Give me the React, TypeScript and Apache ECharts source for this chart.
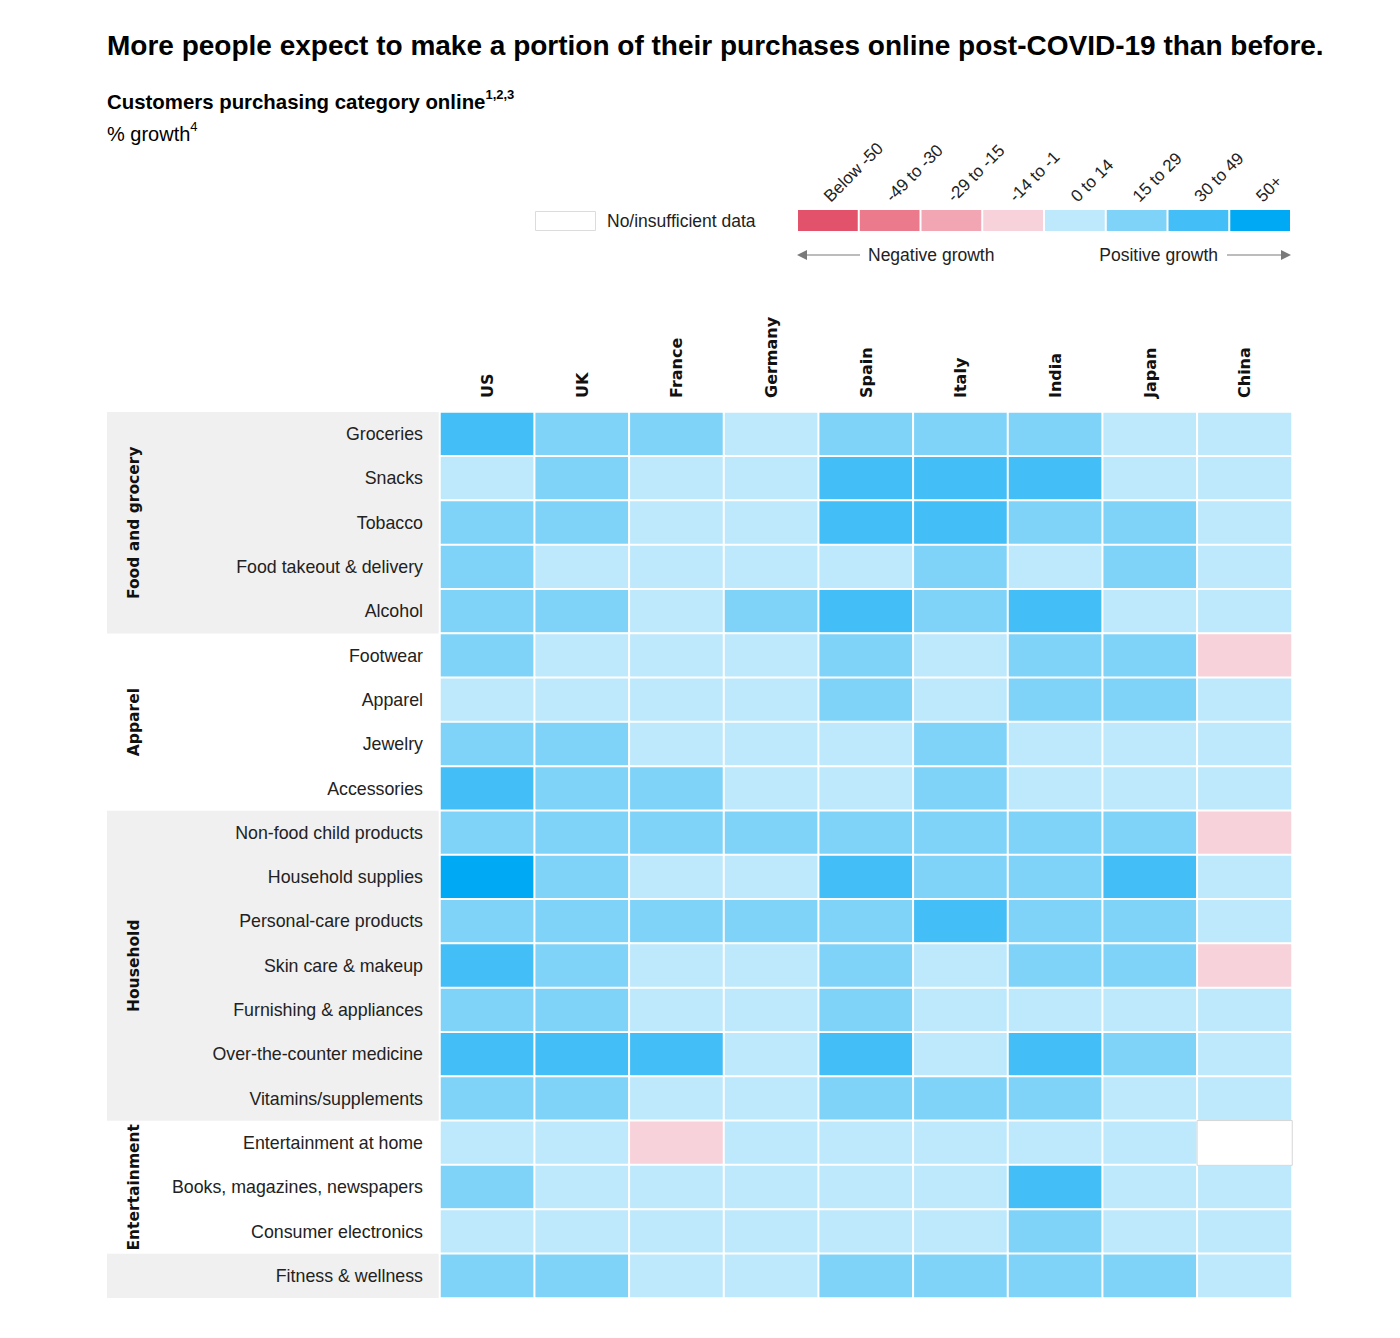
import React, { useEffect, useRef } from "react";
import * as echarts from "echarts";

const countries = ["US", "UK", "France", "Germany", "Spain", "Italy", "India", "Japan", "China"];

const items = [
  "Groceries",
  "Snacks",
  "Tobacco",
  "Food takeout & delivery",
  "Alcohol",
  "Footwear",
  "Apparel",
  "Jewelry",
  "Accessories",
  "Non-food child products",
  "Household supplies",
  "Personal-care products",
  "Skin care & makeup",
  "Furnishing & appliances",
  "Over-the-counter medicine",
  "Vitamins/supplements",
  "Entertainment at home",
  "Books, magazines, newspapers",
  "Consumer electronics",
  "Fitness & wellness",
];

// bucket index per cell (0 = "Below -50" ... 7 = "50+"), null = no/insufficient data
const buckets = ["Below -50", "-49 to -30", "-29 to -15", "-14 to -1", "0 to 14", "15 to 29", "30 to 49", "50+"];
const bucketColors = ["#e3526b", "#ea7a8c", "#f2a6b3", "#f8d2da", "#bee8fb", "#80d3f8", "#43bef6", "#00a9f3"];

const values: (number | null)[][] = [
  [6, 5, 5, 4, 5, 5, 5, 4, 4],
  [4, 5, 4, 4, 6, 6, 6, 4, 4],
  [5, 5, 4, 4, 6, 6, 5, 5, 4],
  [5, 4, 4, 4, 4, 5, 4, 5, 4],
  [5, 5, 4, 5, 6, 5, 6, 4, 4],
  [5, 4, 4, 4, 5, 4, 5, 5, 3],
  [4, 4, 4, 4, 5, 4, 5, 5, 4],
  [5, 5, 4, 4, 4, 5, 4, 4, 4],
  [6, 5, 5, 4, 4, 5, 4, 4, 4],
  [5, 5, 5, 5, 5, 5, 5, 5, 3],
  [7, 5, 4, 4, 6, 5, 5, 6, 4],
  [5, 5, 5, 5, 5, 6, 5, 5, 4],
  [6, 5, 4, 4, 5, 4, 5, 5, 3],
  [5, 5, 4, 4, 5, 4, 4, 4, 4],
  [6, 6, 6, 4, 6, 4, 6, 5, 4],
  [5, 5, 4, 4, 5, 5, 5, 4, 4],
  [4, 4, 3, 4, 4, 4, 4, 4, null],
  [5, 4, 4, 4, 4, 4, 6, 4, 4],
  [4, 4, 4, 4, 4, 4, 5, 4, 4],
  [5, 5, 4, 4, 5, 5, 5, 5, 4],
];

const groupNames = ["Food and grocery", "Apparel", "Household", "Entertainment", ""];
const groupStart = [0, 5, 9, 16, 19];
const groupEnd = [4, 8, 15, 18, 19];
const groupShaded = [true, false, true, false, true];

const BODY = "'Liberation Sans', Arial, Helvetica, sans-serif";
const WIDE = "'DejaVu Sans', Verdana, sans-serif";

export default function App() {
  const ref = useRef<HTMLDivElement>(null);

  useEffect(() => {
    if (!ref.current) return;
    const chart = echarts.init(ref.current, null, { renderer: "svg" });

    const cellData: number[][] = [];
    const nullData: number[][] = [];
    values.forEach((row, y) =>
      row.forEach((v, x) => {
        if (v === null) nullData.push([x, y, -1]);
        else cellData.push([x, y, v]);
      })
    );

    chart.setOption({
      animation: false,
      grid: { left: 440, right: 108, top: 412, bottom: 40, containLabel: false },
      xAxis: {
        type: "category",
        data: countries,
        position: "top",
        axisLine: { show: false },
        axisTick: { show: false },
        splitLine: { show: false },
        axisLabel: {
          rotate: -90,
          margin: 14,
          fontFamily: WIDE,
          fontWeight: "bold",
          fontSize: 16,
          color: "#111",
        },
      },
      yAxis: {
        type: "category",
        data: items,
        inverse: true,
        axisLine: { show: false },
        axisTick: { show: false },
        splitLine: { show: false },
        axisLabel: {
          margin: 17,
          fontFamily: BODY,
          fontSize: 17.8,
          color: "#222",
        },
      },
      visualMap: [
        {
          type: "piecewise",
          show: false,
          dimension: 2,
          seriesIndex: 0,
          pieces: buckets.map((b, i) => ({ value: i, color: bucketColors[i], label: b })),
        },
        {
          type: "piecewise",
          show: false,
          dimension: 2,
          seriesIndex: 1,
          pieces: [{ value: -1, color: "#ffffff", label: "No/insufficient data" }],
        },
      ],
      series: [
        {
          type: "heatmap",
          data: cellData,
          itemStyle: { borderColor: "#ffffff", borderWidth: 2 },
          emphasis: { disabled: true },
        },
        {
          type: "heatmap",
          data: nullData,
          itemStyle: { borderColor: "#d6d6d6", borderWidth: 1 },
          emphasis: { disabled: true },
        },
      ],
    });

    const p0 = chart.convertToPixel({ xAxisIndex: 0, yAxisIndex: 0 }, [0, 0]) as number[];
    const p1 = chart.convertToPixel({ xAxisIndex: 0, yAxisIndex: 0 }, [1, 1]) as number[];
    const cellW = p1[0] - p0[0];
    const cellH = p1[1] - p0[1];
    const gridLeft = p0[0] - cellW / 2;
    const rowTop = (i: number) => p0[1] - cellH / 2 + i * cellH;

    const elements: any[] = [];

    // group bands
    groupNames.forEach((g, i) => {
      const top = rowTop(groupStart[i]);
      const bottom = rowTop(groupEnd[i] + 1);
      if (groupShaded[i]) {
        elements.push({
          type: "rect",
          z: -10,
          shape: { x: 107, y: top, width: gridLeft - 107, height: bottom - top },
          style: { fill: "#f0f0f0" },
          silent: true,
        });
      }
      if (g) {
        elements.push({
          type: "text",
          x: 134,
          y: (top + bottom) / 2,
          rotation: Math.PI / 2,
          style: {
            text: g,
            font: `bold 15.5px ${WIDE}`,
            fill: "#111",
            textAlign: "center",
            textVerticalAlign: "middle",
          },
        });
      }
    });

    // title & subtitle
    elements.push({
      type: "text",
      x: 107,
      y: 45,
      style: {
        text: "More people expect to make a portion of their purchases online post-COVID-19 than before.",
        font: `bold 28px ${BODY}`,
        fill: "#000",
        textVerticalAlign: "middle",
      },
    });
    elements.push({
      type: "text",
      x: 107,
      y: 88,
      style: {
        text: "{a|Customers purchasing category online}{s|1,2,3}",
        fill: "#000",
        rich: {
          a: { font: `bold 20.4px ${BODY}`, fill: "#000", lineHeight: 24, verticalAlign: "bottom" },
          s: { font: `bold 13px ${BODY}`, fill: "#000", lineHeight: 24, verticalAlign: "top" },
        },
      },
    });
    elements.push({
      type: "text",
      x: 107,
      y: 120,
      style: {
        text: "{a|% growth}{s|4}",
        fill: "#000",
        rich: {
          a: { font: `20px ${BODY}`, fill: "#000", lineHeight: 24, verticalAlign: "bottom" },
          s: { font: `13px ${BODY}`, fill: "#000", lineHeight: 24, verticalAlign: "top" },
        },
      },
    });

    // legend: no data
    elements.push({
      type: "rect",
      shape: { x: 535.5, y: 211.5, width: 60, height: 19 },
      style: { fill: "#fff", stroke: "#dcdcdc", lineWidth: 1 },
    });
    elements.push({
      type: "text",
      x: 607,
      y: 221,
      style: {
        text: "No/insufficient data",
        font: `17.5px ${BODY}`,
        fill: "#222",
        textVerticalAlign: "middle",
      },
    });

    // legend: color scale
    const lx0 = 797;
    const lx1 = 1291;
    const lw = (lx1 - lx0) / buckets.length;
    buckets.forEach((b, i) => {
      const x = lx0 + i * lw;
      elements.push({
        type: "rect",
        shape: { x: x + 1, y: 210, width: lw - 2, height: 21 },
        style: { fill: bucketColors[i] },
      });
      elements.push({
        type: "text",
        x: x + lw / 2 + 5,
        y: 205,
        rotation: Math.PI / 4,
        style: {
          text: b,
          font: `17px ${BODY}`,
          fill: "#222",
          textAlign: "left",
          textVerticalAlign: "bottom",
        },
      });
    });

    // arrows
    const arrowColor = "#7a7a7a";
    elements.push({
      type: "line",
      shape: { x1: 803, y1: 255, x2: 860, y2: 255 },
      style: { stroke: arrowColor, lineWidth: 1.2 },
    });
    elements.push({
      type: "polygon",
      shape: { points: [[797, 255], [807, 250], [807, 260]] },
      style: { fill: arrowColor },
    });
    elements.push({
      type: "text",
      x: 868,
      y: 255,
      style: { text: "Negative growth", font: `17.5px ${BODY}`, fill: "#222", textVerticalAlign: "middle" },
    });
    elements.push({
      type: "text",
      x: 1218,
      y: 255,
      style: {
        text: "Positive growth",
        font: `17.5px ${BODY}`,
        fill: "#222",
        textAlign: "right",
        textVerticalAlign: "middle",
      },
    });
    elements.push({
      type: "line",
      shape: { x1: 1227, y1: 255, x2: 1284, y2: 255 },
      style: { stroke: arrowColor, lineWidth: 1.2 },
    });
    elements.push({
      type: "polygon",
      shape: { points: [[1291, 255], [1281, 250], [1281, 260]] },
      style: { fill: arrowColor },
    });

    chart.setOption({ graphic: { elements } });

    return () => chart.dispose();
  }, []);

  return (
    <div
      ref={ref}
      style={{ position: "absolute", left: 0, top: 0, width: 1400, height: 1338, background: "#fff" }}
    />
  );
}
